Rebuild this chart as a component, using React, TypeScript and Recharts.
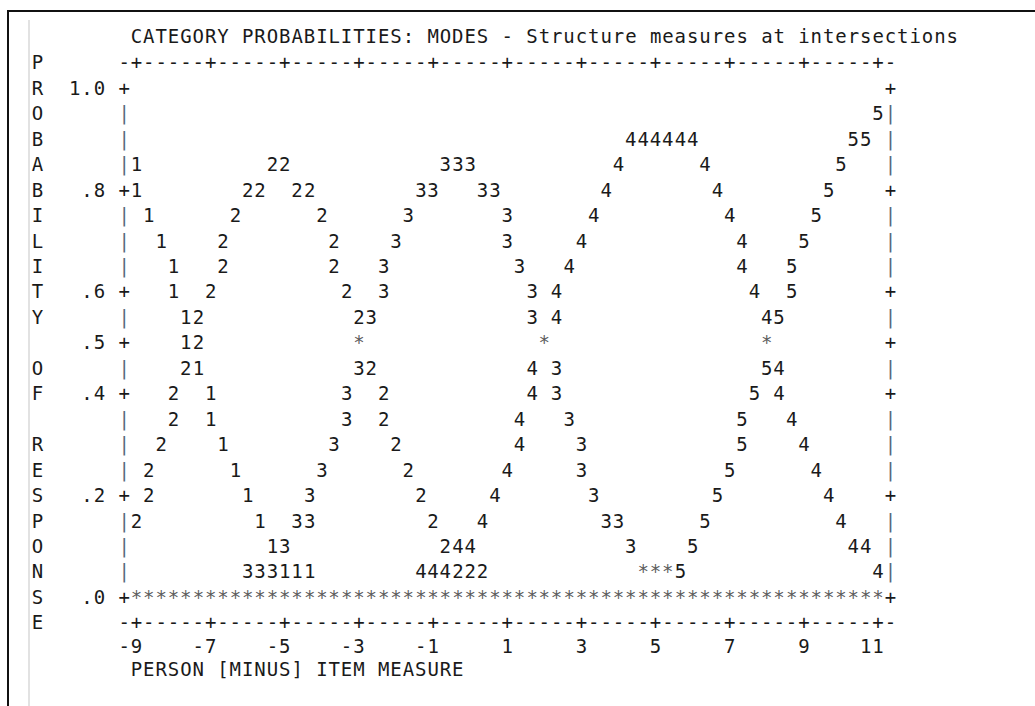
import { ScatterChart, Scatter, XAxis, YAxis } from 'recharts'

const title = 'CATEGORY PROBABILITIES: MODES - Structure measures at intersections'
const xTitle = 'PERSON [MINUS] ITEM MEASURE'
const sideTitle = 'PROBABILITY OF RESPONSE'

const xTickLabels = [-9, -7, -5, -3, -1, 1, 3, 5, 7, 9, 11]
const yTickValues = [1, 0.8, 0.6, 0.5, 0.4, 0.2, 0]
const yTickLabels = ['1.0', '.8', '.6', '.5', '.4', '.2', '.0']

// [person minus item measure, probability] - one plotted character each
const cat1 = [
  [-9, 0.85], [-9, 0.8], [-8.67, 0.75], [-8.33, 0.7], [-8, 0.65], [-8, 0.6], [-7.67, 0.55],
  [-7.67, 0.5], [-7.33, 0.45], [-7, 0.4], [-7, 0.35], [-6.67, 0.3], [-6.33, 0.25], [-6, 0.2],
  [-5.67, 0.15], [-5.33, 0.1], [-5, 0.05], [-4.67, 0.05], [-4.33, 0.05],
]
const cat2 = [
  [-9, 0.15], [-8.67, 0.2], [-8.67, 0.25], [-8.33, 0.3], [-8, 0.35], [-8, 0.4], [-7.67, 0.45],
  [-7.33, 0.5], [-7.33, 0.55], [-7, 0.6], [-6.67, 0.65], [-6.67, 0.7], [-6.33, 0.75], [-6, 0.8],
  [-5.67, 0.8], [-5.33, 0.85], [-5, 0.85], [-4.67, 0.8], [-4.33, 0.8], [-4, 0.75], [-3.67, 0.7],
  [-3.67, 0.65], [-3.33, 0.6], [-3, 0.55], [-2.67, 0.45], [-2.33, 0.4], [-2.33, 0.35], [-2, 0.3],
  [-1.67, 0.25], [-1.33, 0.2], [-1, 0.15], [-0.67, 0.1], [-0.33, 0.05], [0, 0.05], [0.33, 0.05],
]
const cat3 = [
  [-6, 0.05], [-5.67, 0.05], [-5.33, 0.05], [-5, 0.1], [-4.67, 0.15], [-4.33, 0.15], [-4.33, 0.2],
  [-4, 0.25], [-3.67, 0.3], [-3.33, 0.35], [-3.33, 0.4], [-3, 0.45], [-2.67, 0.55], [-2.33, 0.6],
  [-2.33, 0.65], [-2, 0.7], [-1.67, 0.75], [-1.33, 0.8], [-1, 0.8], [-0.67, 0.85], [-0.33, 0.85],
  [0, 0.85], [0.33, 0.8], [0.67, 0.8], [1, 0.75], [1, 0.7], [1.33, 0.65], [1.67, 0.6], [1.67, 0.55],
  [2.33, 0.45], [2.33, 0.4], [2.67, 0.35], [3, 0.3], [3, 0.25], [3.33, 0.2], [3.67, 0.15], [4, 0.15],
  [4.33, 0.1],
]
const cat4 = [
  [-1.33, 0.05], [-1, 0.05], [-0.67, 0.05], [-0.33, 0.1], [0, 0.1], [0.33, 0.15], [0.67, 0.2],
  [1, 0.25], [1.33, 0.3], [1.33, 0.35], [1.67, 0.4], [1.67, 0.45], [2.33, 0.55], [2.33, 0.6],
  [2.67, 0.65], [3, 0.7], [3.33, 0.75], [3.67, 0.8], [4, 0.85], [4.33, 0.9], [4.67, 0.9], [5, 0.9],
  [5.33, 0.9], [5.67, 0.9], [6, 0.9], [6.33, 0.85], [6.67, 0.8], [7, 0.75], [7.33, 0.7], [7.33, 0.65],
  [7.67, 0.6], [8, 0.55], [8.33, 0.45], [8.33, 0.4], [8.67, 0.35], [9, 0.3], [9.33, 0.25],
  [9.67, 0.2], [10, 0.15], [10.33, 0.1], [10.67, 0.1], [11, 0.05],
]
const cat5 = [
  [5.67, 0.05], [6, 0.1], [6.33, 0.15], [6.67, 0.2], [7, 0.25], [7.33, 0.3], [7.33, 0.35],
  [7.67, 0.4], [8, 0.45], [8.33, 0.55], [8.67, 0.6], [8.67, 0.65], [9, 0.7], [9.33, 0.75],
  [9.67, 0.8], [10, 0.85], [10.33, 0.9], [10.67, 0.9], [11, 0.95],
]
// '*' = more than one category at the same spot
const several = [[-3, 0.5], [2, 0.5], [8, 0.5], [4.67, 0.05], [5, 0.05], [5.33, 0.05]]
const zeroRowX = [
  -9, -8.67, -8.33, -8, -7.67, -7.33, -7, -6.67, -6.33, -6, -5.67, -5.33, -5, -4.67, -4.33, -4,
  -3.67, -3.33, -3, -2.67, -2.33, -2, -1.67, -1.33, -1, -0.67, -0.33, 0, 0.33, 0.67, 1, 1.33, 1.67,
  2, 2.33, 2.67, 3, 3.33, 3.67, 4, 4.33, 4.67, 5, 5.33, 5.67, 6, 6.33, 6.67, 7, 7.33, 7.67, 8, 8.33,
  8.67, 9, 9.33, 9.67, 10, 10.33, 10.67, 11,
]

// character grid: one cell is 1/3 logit wide and .05 tall
const W = 1035
const H = 706
const PITCH = 12.36
const ROW = 25.45
const LEFT = 124.1 // centre of left frame column
const RIGHT = LEFT + 62 * PITCH
const TOP = 62.5 // centre of top ruler row
const BOTTOM = TOP + 22 * ROW
const FONT = '"DejaVu Sans Mono", monospace'
const FS = 19
const LS = PITCH - FS * 0.602
const BASE = 6.9
const INK = '#1a1a1a'
const BAR = '#56677d'

const XMIN = -9 - 1 / 3
const XMAX = 11 + 1 / 3
const colTicks = Array.from({ length: 63 }, (_, i) => -9 + (i - 1) / 3)
const rowTicks = Array.from({ length: 23 }, (_, i) => 1.05 - i * 0.05)

const colOf = (v: number) => Math.round((v + 9) * 3)
const rowOf = (v: number) => Math.round((1 - v) * 20)
const isMajor = (c: number) => c >= 0 && c <= 60 && c % 6 === 0
const labelRow = (k: number) => yTickValues.findIndex((v) => rowOf(v) === k)

const pts = (arr: number[][]) => arr.map(([x, y]) => ({ x, y }))

// string whose first character is centred on cx
const Str = ({ cx, cy, s, fill = INK }: { cx: number; cy: number; s: string; fill?: string }) => (
  <text
    x={cx - PITCH / 2 + LS / 2}
    y={cy + BASE}
    fontFamily={FONT}
    fontSize={FS}
    letterSpacing={LS}
    fill={fill}
    textAnchor="start"
    style={{ whiteSpace: 'pre' }}
  >
    {s}
  </text>
)

const glyph = (ch: string, fill = INK) => (p: any) => (
  <text x={p.cx} y={p.cy + BASE} textAnchor="middle" fontFamily={FONT} fontSize={FS} fill={fill}>
    {ch}
  </text>
)

const TopTick = (p: any) => <Str cx={p.x} cy={p.y} s={isMajor(colOf(p.payload.value)) ? '+' : '-'} />

const BottomTick = (p: any) => {
  const c = colOf(p.payload.value)
  const lab = isMajor(c) ? String(xTickLabels[c / 6]) : ''
  return (
    <g>
      <Str cx={p.x} cy={p.y} s={isMajor(c) ? '+' : '-'} />
      {lab && <Str cx={p.x - (lab.length - 1) * PITCH} cy={p.y + ROW - 1.5} s={lab} />}
    </g>
  )
}

const LeftTick = (p: any) => {
  const k = rowOf(p.payload.value)
  const li = labelRow(k)
  const letter = sideTitle[k + 1]
  const lab = li >= 0 ? yTickLabels[li] : ''
  return (
    <g>
      {letter !== ' ' && <Str cx={p.x - 7 * PITCH} cy={p.y} s={letter} />}
      {lab && <Str cx={p.x - (lab.length + 1) * PITCH} cy={p.y} s={lab} />}
      {k >= 0 && k <= 20 && <Str cx={p.x} cy={p.y} s={li >= 0 ? '+' : '|'} fill={li >= 0 ? INK : BAR} />}
    </g>
  )
}

const RightTick = (p: any) => {
  const k = rowOf(p.payload.value)
  if (k < 0 || k > 20) return <g />
  const plus = labelRow(k) >= 0
  return <Str cx={p.x} cy={p.y} s={plus ? '+' : '|'} fill={plus ? INK : BAR} />
}

const TitleLabel = (p: any) => {
  const vb = p.viewBox
  return <Str cx={vb.x + PITCH} cy={vb.y + vb.height - ROW - 1} s={title} />
}

const XTitleLabel = (p: any) => {
  const vb = p.viewBox
  return <Str cx={vb.x + PITCH} cy={vb.y + 46.5} s={xTitle} />
}

const axisCommon = {
  type: 'number' as const,
  interval: 0 as const,
  tickSize: 0,
  tickMargin: 0,
  axisLine: false,
  tickLine: false,
  allowDataOverflow: true,
}

export default function App() {
  return (
    <div style={{ position: 'relative', width: W, height: H, background: '#fff', overflow: 'hidden' }}>
      <style>{'body{margin:0}'}</style>
      <div style={{ position: 'absolute', left: 7, top: 10, right: 0, height: 2, background: '#111' }} />
      <div style={{ position: 'absolute', left: 7, top: 10, bottom: 0, width: 2, background: '#111' }} />
      <div style={{ position: 'absolute', left: 28, top: 20, bottom: 0, width: 2, background: '#e2e2e2' }} />
      <div style={{ position: 'absolute', left: 0, top: 0 }}>
        <ScatterChart width={W} height={H} margin={{ top: 0, right: 0, bottom: 0, left: 0 }}>
          <XAxis
            {...axisCommon}
            xAxisId="b"
            dataKey="x"
            domain={[XMIN, XMAX]}
            ticks={colTicks}
            tick={BottomTick}
            height={H - BOTTOM}
            label={XTitleLabel}
          />
          <XAxis
            {...axisCommon}
            xAxisId="t"
            orientation="top"
            dataKey="x"
            domain={[XMIN, XMAX]}
            ticks={colTicks}
            tick={TopTick}
            height={TOP}
            label={TitleLabel}
          />
          <YAxis
            {...axisCommon}
            yAxisId="l"
            dataKey="y"
            domain={[-0.05, 1.05]}
            ticks={rowTicks}
            tick={LeftTick}
            width={LEFT}
          />
          <YAxis
            {...axisCommon}
            yAxisId="r"
            orientation="right"
            dataKey="y"
            domain={[-0.05, 1.05]}
            ticks={rowTicks}
            tick={RightTick}
            width={W - RIGHT}
          />
          <Scatter xAxisId="b" yAxisId="l" data={pts(cat1)} shape={glyph('1')} isAnimationActive={false} />
          <Scatter xAxisId="b" yAxisId="l" data={pts(cat2)} shape={glyph('2')} isAnimationActive={false} />
          <Scatter xAxisId="b" yAxisId="l" data={pts(cat3)} shape={glyph('3')} isAnimationActive={false} />
          <Scatter xAxisId="b" yAxisId="l" data={pts(cat4)} shape={glyph('4')} isAnimationActive={false} />
          <Scatter xAxisId="b" yAxisId="l" data={pts(cat5)} shape={glyph('5')} isAnimationActive={false} />
          <Scatter
            xAxisId="b"
            yAxisId="l"
            data={[...pts(several), ...zeroRowX.map((x) => ({ x, y: 0 }))]}
            shape={glyph('*', '#5c5c5c')}
            isAnimationActive={false}
          />
        </ScatterChart>
      </div>
    </div>
  )
}
